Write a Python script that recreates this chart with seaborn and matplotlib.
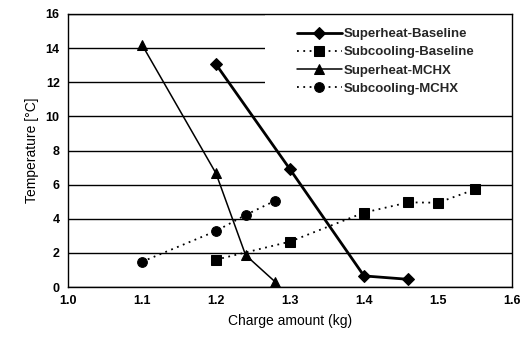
import matplotlib
matplotlib.use("Agg")
import matplotlib.pyplot as plt
import seaborn as sns
import pandas as pd
from matplotlib.patches import Rectangle

# Data
sh_base_x = [1.2, 1.3, 1.4, 1.46]
sh_base_y = [13.05, 6.9, 0.65, 0.45]
sc_base_x = [1.2, 1.3, 1.4, 1.46, 1.5, 1.55]
sc_base_y = [1.6, 2.66, 4.36, 4.96, 4.94, 5.72]
sh_mchx_x = [1.1, 1.2, 1.24, 1.28]
sh_mchx_y = [14.2, 6.66, 1.87, 0.3]
sc_mchx_x = [1.1, 1.2, 1.24, 1.28]
sc_mchx_y = [1.48, 3.28, 4.22, 5.06]

labels = ["Superheat-Baseline", "Subcooling-Baseline", "Superheat-MCHX", "Subcooling-MCHX"]
xticks = [1.0, 1.1, 1.2, 1.3, 1.4, 1.5, 1.6]
yticks = [0, 2, 4, 6, 8, 10, 12, 14, 16]

sns.set_theme(style="white")
plt.rcParams['font.family'] = ['Liberation Sans', 'DejaVu Sans']

fig = plt.figure(figsize=(5.22, 3.39), dpi=100)
ax = fig.add_axes([68/522, 1-287/339, (512-68)/522, (287-14)/339])

dotted = (0, (1, 2.5))
series = [
    (sh_base_x, sh_base_y, labels[0], "D", "-", 2.0, 6.5),
    (sc_base_x, sc_base_y, labels[1], "s", dotted, 1.3, 6.5),
    (sh_mchx_x, sh_mchx_y, labels[2], "^", "-", 1.1, 7),
    (sc_mchx_x, sc_mchx_y, labels[3], "o", dotted, 1.3, 7),
]
for xs, ys, lab, mk, ls, lw, ms in series:
    df = pd.DataFrame({"x": xs, "y": ys})
    sns.lineplot(data=df, x="x", y="y", ax=ax, sort=False, color="black",
                 marker=mk, linestyle=ls, linewidth=lw, markersize=ms,
                 markeredgecolor="black", markerfacecolor="black", label=lab,
                 zorder=3)

ax.set_xlim(1.0, 1.6)
ax.set_ylim(0, 16)
ax.set_xticks(xticks)
ax.set_xticklabels([f"{v:.1f}" for v in xticks], fontweight="bold", fontsize=9)
ax.set_yticks(yticks)
ax.set_yticklabels([str(v) for v in yticks], fontweight="bold", fontsize=9)
ax.yaxis.grid(True, color="black", linewidth=1.0, zorder=0)
ax.xaxis.grid(False)
ax.set_axisbelow(True)
for s in ax.spines.values():
    s.set_color("black")
    s.set_linewidth(1.0)
ax.tick_params(axis="both", direction="out", length=3, width=0.8, color="black", pad=3, labelcolor="black")
ax.set_xlabel("Charge amount (kg)", fontsize=10, color="black", labelpad=5)
ax.set_ylabel("Temperature [°C]", fontsize=10, color="black", labelpad=5)

# legend background
ax.add_patch(Rectangle(((265-68)/444, (287-102)/273), 1, 1, transform=ax.transAxes,
                       facecolor="white", edgecolor="none", zorder=1, clip_on=True))
leg = ax.legend(loc="upper left", bbox_to_anchor=((297-68)/444, 1-14/273),
                frameon=False, handlelength=3.4, fontsize=9.5, labelspacing=0.45,
                handletextpad=0.1, borderaxespad=0, borderpad=0)
for t in leg.get_texts():
    t.set_fontweight("bold")
leg.set_zorder(5)

fig.savefig("out.png", dpi=100, facecolor="white")
